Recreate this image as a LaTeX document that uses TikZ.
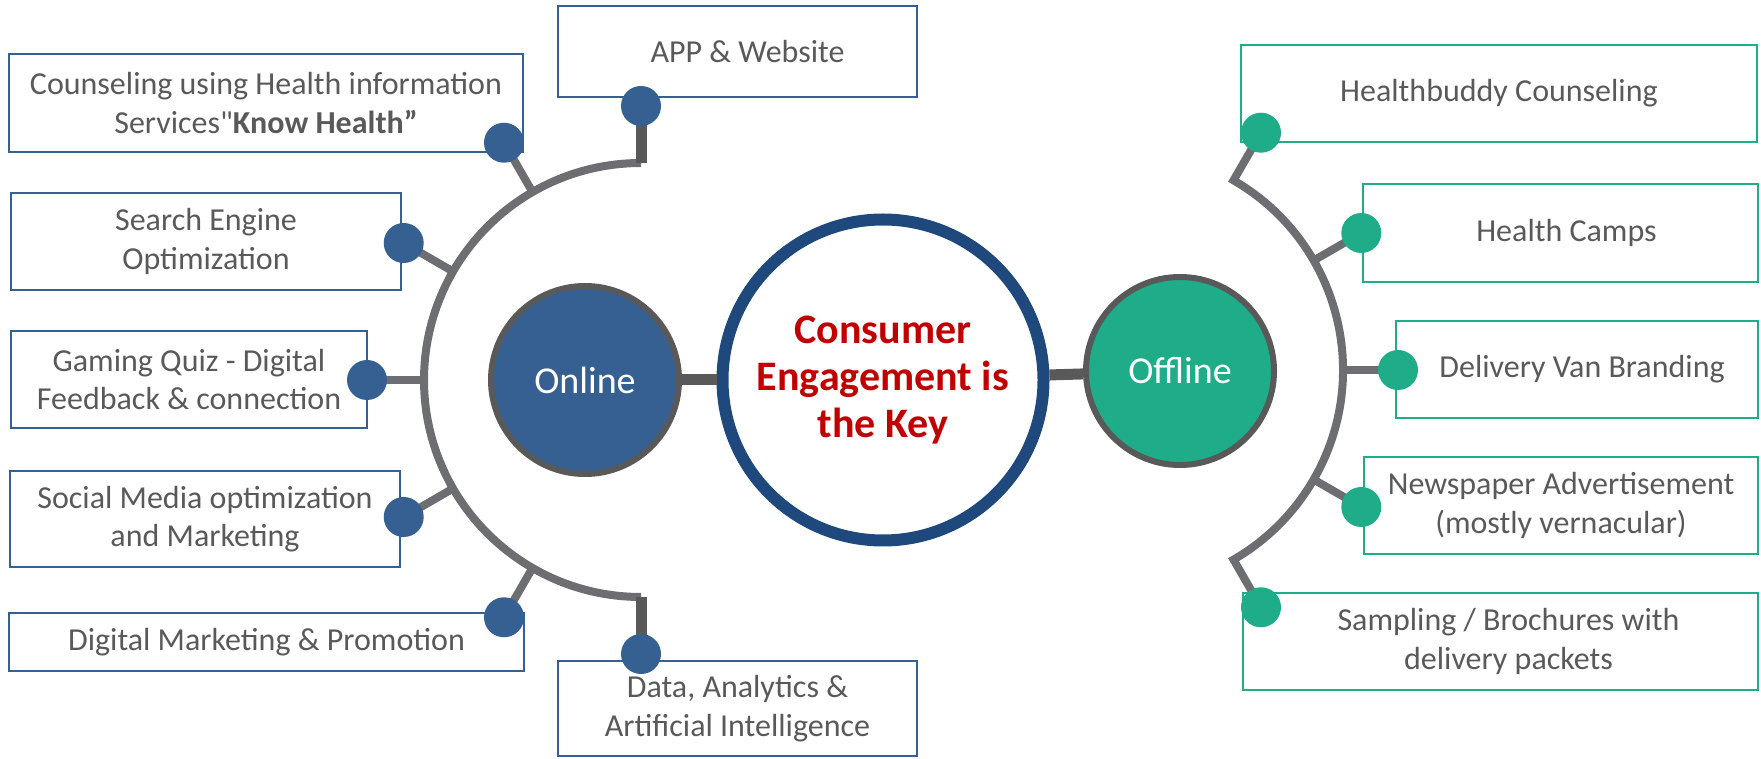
\documentclass[tikz,border=0pt]{standalone}
\usepackage{fontspec}
\setmainfont{Carlito}
\newfontfamily\plainquote{Carlito}
\definecolor{onblue}{HTML}{376092}
\definecolor{offgreen}{HTML}{1EAD88}
\definecolor{ringblue}{HTML}{1F497D}
\definecolor{arcgray}{HTML}{6D6E71}
\definecolor{stemgray}{HTML}{595959}
\definecolor{keyred}{HTML}{C00000}

\begin{document}
\begin{tikzpicture}[x=1pt, y=1pt,
    txt/.style={font=\fontsize{32}{38.5}\selectfont, text=stemgray, align=center, inner sep=0pt},
    onbox/.style={txt, draw=onblue, line width=2.5pt},
    offbox/.style={txt, draw=offgreen, line width=2.5pt},
    bdot/.style={circle, fill=onblue, minimum size=40pt, inner sep=0pt},
    gdot/.style={circle, fill=offgreen, minimum size=40pt, inner sep=0pt},
    arcline/.style={draw=arcgray, line width=8pt},
    spoke/.style={draw=arcgray, line width=8pt},
    endstem/.style={draw=stemgray, line width=11pt},
    bar/.style={draw=stemgray, line width=11pt},
    side/.style={circle, draw=stemgray, line width=6pt, minimum size=188pt, inner sep=0pt, text=white, font=\fontsize{38}{42}\selectfont}]

    \useasboundingbox (0,0) rectangle (1761,758);

    % online boxes
    \node[onbox, minimum width=359pt, minimum height=91pt] (app) at (737.5,706.5) {\hspace*{20pt}APP \& Website};
    \node[onbox, minimum width=514pt, minimum height=98pt] (coun) at (266,655) {Counseling using Health information\\Services{\plainquote"}\textbf{Know Health”}};
    \node[onbox, minimum width=390pt, minimum height=97pt] (seo) at (206,516.5) {Search Engine\\Optimization};
    \node[onbox, minimum width=356pt, minimum height=97pt] (game) at (189,378.5) {Gaming Quiz - Digital\\Feedback \& connection};
    \node[onbox, minimum width=390pt, minimum height=96pt] (soc) at (205,239) {Social Media optimization\\and Marketing};
    \node[onbox, minimum width=515pt, minimum height=58pt] (dig) at (266.5,116) {Digital Marketing \& Promotion};
    \node[onbox, minimum width=359pt, minimum height=95pt] (data) at (737.5,49.5) {\raisebox{-4pt}{Data, Analytics \&}\\\raisebox{-4pt}{Artificial Intelligence}};

    % offline boxes
    \node[offbox, minimum width=516pt, minimum height=97pt] (buddy) at (1499,664.5) {Healthbuddy Counseling};
    \node[offbox, minimum width=395pt, minimum height=98pt] (camps) at (1560.5,525) {\hspace*{12pt}Health Camps};
    \node[offbox, minimum width=362pt, minimum height=97pt] (van) at (1577,388.5) {\hspace*{10pt}Delivery Van Branding};
    \node[offbox, minimum width=394pt, minimum height=97pt] (news) at (1561,252.5) {Newspaper Advertisement\\(mostly vernacular)};
    \node[offbox, minimum width=515pt, minimum height=97pt] (sample) at (1500.5,116.5) {\hspace*{16pt}Sampling / Brochures with\\\hspace*{16pt}delivery packets};

    % arcs
    \coordinate (L) at (641,378);
    \coordinate (R) at (1124,388);
    \foreach \a in {90,120,150,180,210,240,270}
        \coordinate (l\a) at ([shift={(\a:217)}]L);
    \coordinate (rA) at ([shift={(60:219)}]R);
    \coordinate (rB) at ([shift={(30:219)}]R);
    \coordinate (rC) at ([shift={(0:219)}]R);
    \coordinate (rD) at ([shift={(-30:219)}]R);

    \coordinate (pApp) at ([shift={(90:274)}]L);
    \coordinate (pCoun) at ([shift={(120:274)}]L);
    \coordinate (pSeo) at ([shift={(150:274)}]L);
    \coordinate (pGame) at ([shift={(180:274)}]L);
    \coordinate (pSoc) at ([shift={(210:274)}]L);
    \coordinate (pDig) at ([shift={(240:274)}]L);
    \coordinate (pData) at ([shift={(270:274)}]L);
    \coordinate (pBuddy) at ([shift={(60:274)}]R);
    \coordinate (pCamps) at ([shift={(30:274)}]R);
    \coordinate (pVan) at ([shift={(0:274)}]R);
    \coordinate (pNews) at ([shift={(-30:274)}]R);
    \coordinate (pSample) at ([shift={(-60:274)}]R);

    \draw[arcline] (l90) arc[start angle=90, end angle=270, radius=217];
    \draw[endstem] (l90) -- (pApp);
    \draw[endstem] (l270) -- (pData);
    \foreach \a/\p in {120/pCoun, 150/pSeo, 180/pGame, 210/pSoc, 240/pDig}
        \draw[spoke] (l\a) -- (\p);

    \draw[arcline] (pBuddy) -- (rA) arc[start angle=60, end angle=-60, radius=219] -- (pSample);
    \draw[spoke] (rB) -- (pCamps);
    \draw[spoke] (rC) -- (pVan);
    \draw[spoke] (rD) -- (pNews);

    % dots
    \node[bdot] (dApp) at (pApp) {};
    \node[bdot] (dCoun) at (pCoun) {};
    \node[bdot] (dSeo) at (pSeo) {};
    \node[bdot] (dGame) at (pGame) {};
    \node[bdot] (dSoc) at (pSoc) {};
    \node[bdot] (dDig) at (pDig) {};
    \node[bdot] (dData) at (pData) {};
    \node[gdot] (dBuddy) at (pBuddy) {};
    \node[gdot] (dCamps) at (pCamps) {};
    \node[gdot] (dVan) at (pVan) {};
    \node[gdot] (dNews) at (pNews) {};
    \node[gdot] (dSample) at (pSample) {};

    % hubs
    \node[side, fill=onblue] (online) at (585,378) {Online};
    \node[side, fill=offgreen] (offline) at (1180,387) {Offline};
    \node[circle, draw=ringblue, fill=white, line width=12pt, minimum size=321pt, inner sep=0pt, align=center,
          text=keyred, font=\bfseries\fontsize{42}{47}\selectfont] (key) at (883,378) {Consumer\\Engagement is\\the Key};

    \path
        (online) edge[bar] (key)
        (key) edge[bar] (offline)
        ;
\end{tikzpicture}
\end{document}
